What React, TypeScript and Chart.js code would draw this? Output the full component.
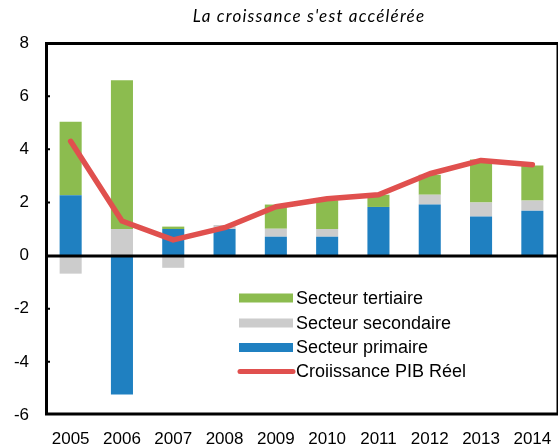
import React, { useEffect, useRef } from 'react';
import { Chart, registerables } from 'chart.js';

Chart.register(...registerables);

const years = ['2005', '2006', '2007', '2008', '2009', '2010', '2011', '2012', '2013', '2014'];
const primaire = [2.27, -5.23, 1.0, 1.0, 0.71, 0.71, 1.83, 1.92, 1.47, 1.69];
const secondaire = [-0.68, 1.0, -0.46, 0.15, 0.3, 0.29, 0, 0.37, 0.53, 0.38];
const tertiaire = [2.77, 5.6, 0.09, 0, 0.91, 1.08, 0.46, 0.75, 1.62, 1.32];
const pib = [4.3, 1.3, 0.59, 1.05, 1.84, 2.14, 2.29, 3.08, 3.58, 3.42];
const yMin = -6;
const yMax = 8;
const yStep = 2;

const title = "La croissance s'est accélérée";
const legendLabels = ['Secteur tertiaire', 'Secteur secondaire', 'Secteur primaire', 'Croiissance PIB Réel'];

const GREEN = '#8CBC4F';
const GREY = '#CCCCCC';
const BLUE = '#1F80C1';
const RED = '#E0504E';
const FONT = 'Liberation Sans, Arial, sans-serif';

const overlay = {
  id: 'overlay',
  afterDatasetsDraw(chart: any) {
    const ctx = chart.ctx;
    const area = chart.chartArea;
    const ys = chart.scales.y;
    const yTop = ys.getPixelForValue(yMax);
    const yBot = ys.getPixelForValue(yMin);
    const y0 = ys.getPixelForValue(0);
    ctx.save();
    ctx.strokeStyle = '#000';
    ctx.lineCap = 'butt';
    ctx.lineWidth = 3;
    ctx.beginPath();
    ctx.moveTo(area.left, yTop + 0.5);
    ctx.lineTo(area.right, yTop + 0.5);
    ctx.moveTo(area.left, y0 + 0.5);
    ctx.lineTo(area.right, y0 + 0.5);
    ctx.moveTo(area.left, yBot - 1);
    ctx.lineTo(area.right, yBot - 1);
    ctx.moveTo(area.left + 1.5, yTop - 1);
    ctx.lineTo(area.left + 1.5, yBot + 0.5);
    ctx.stroke();
    ctx.lineWidth = 1.5;
    ctx.beginPath();
    ctx.moveTo(area.right - 0.75, yTop);
    ctx.lineTo(area.right - 0.75, yBot);
    ctx.stroke();
    ctx.lineWidth = 2;
    ctx.beginPath();
    for (let v = yMin + yStep; v < yMax; v += yStep) {
      if (v === 0) continue;
      const p = ys.getPixelForValue(v);
      ctx.moveTo(area.left + 2, p);
      ctx.lineTo(area.left + 5, p);
    }
    ctx.stroke();

    // title
    ctx.fillStyle = '#000';
    ctx.font = 'italic 17px Lato, "Open Sans", sans-serif';
    ctx.textAlign = 'center';
    ctx.textBaseline = 'middle';
    try { (ctx as any).letterSpacing = '1.2px'; } catch (e) {}
    ctx.fillText(title, 309, 17);
    try { (ctx as any).letterSpacing = '0px'; } catch (e) {}

    // legend
    const lx0 = 239;
    const lx1 = 293;
    const rows = [298, 323, 347.5, 371.5];
    const colors = [GREEN, GREY, BLUE];
    ctx.font = '18px ' + FONT;
    ctx.textAlign = 'left';
    for (let i = 0; i < 3; i++) {
      ctx.fillStyle = colors[i];
      ctx.fillRect(lx0, rows[i] - 4.5, lx1 - lx0, 9);
    }
    ctx.strokeStyle = RED;
    ctx.lineWidth = 5;
    ctx.lineCap = 'round';
    ctx.beginPath();
    ctx.moveTo(lx0 + 1, rows[3]);
    ctx.lineTo(lx1, rows[3]);
    ctx.stroke();
    ctx.fillStyle = '#000';
    for (let i = 0; i < 4; i++) {
      ctx.fillText(legendLabels[i], 296, rows[i] + 1);
    }
    ctx.restore();
  },
};

export default function App() {
  const ref = useRef<HTMLCanvasElement>(null);
  useEffect(() => {
    if (!ref.current) return;
    const tickFont = { family: FONT, size: 17 };
    const barCommon = { barPercentage: 0.43, categoryPercentage: 1, borderWidth: 0, order: 1, stack: 's' };
    const chart = new Chart(ref.current, {
      type: 'bar',
      data: {
        labels: years,
        datasets: [
          { type: 'bar', label: 'Secteur primaire', data: primaire, backgroundColor: BLUE, ...barCommon } as any,
          { type: 'bar', label: 'Secteur secondaire', data: secondaire, backgroundColor: GREY, ...barCommon } as any,
          { type: 'bar', label: 'Secteur tertiaire', data: tertiaire, backgroundColor: GREEN, ...barCommon } as any,
          {
            type: 'line',
            label: 'Croiissance PIB Réel',
            data: pib,
            borderColor: RED,
            backgroundColor: RED,
            borderWidth: 5.5,
            pointRadius: 0,
            tension: 0,
            borderCapStyle: 'round',
            borderJoinStyle: 'round',
            order: 0,
          } as any,
        ],
      },
      options: {
        responsive: false,
        animation: false,
        layout: { padding: { top: 43, right: 2, left: 0, bottom: 0 } },
        plugins: { legend: { display: false }, tooltip: { enabled: false }, title: { display: false } },
        scales: {
          x: {
            stacked: true,
            grid: { display: false, drawTicks: false },
            border: { display: false },
            ticks: { font: tickFont, color: '#000', padding: 14, maxRotation: 0, autoSkip: false },
            afterFit: (s: any) => { s.height = 33; s.paddingLeft = 0; s.paddingRight = 0; },
          },
          y: {
            stacked: true,
            min: yMin,
            max: yMax,
            grid: { display: false, drawTicks: false },
            border: { display: false },
            ticks: { stepSize: yStep, font: tickFont, color: '#000', padding: 16 },
            afterFit: (s: any) => { s.width = 45; s.paddingTop = 0; s.paddingBottom = 0; },
          },
        },
      },
      plugins: [overlay],
    });
    return () => chart.destroy();
  }, []);
  return (
    <div style={{ position: 'fixed', left: 0, top: 0, width: 560, height: 448, background: '#fff' }}>
      <canvas ref={ref} width={560} height={448} />
    </div>
  );
}
